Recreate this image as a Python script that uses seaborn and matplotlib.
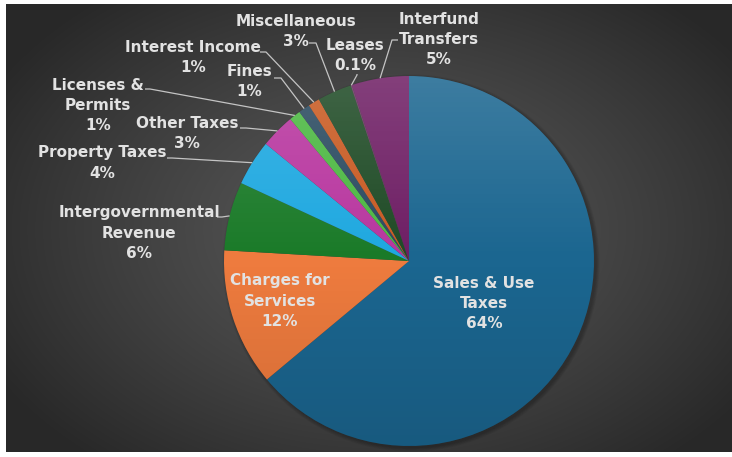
import numpy as np
import matplotlib
matplotlib.use("Agg")
import matplotlib.pyplot as plt
import seaborn as sns
from matplotlib.patches import Circle

# Revenue sources, in clockwise order from 12 o'clock
categories = [
    "Sales & Use\nTaxes", "Charges for\nServices", "Intergovernmental\nRevenue",
    "Property Taxes", "Other Taxes", "Licenses &\nPermits", "Fines",
    "Interest Income", "Miscellaneous", "Leases", "Interfund\nTransfers",
]
shares = [64, 12, 6, 4, 3, 1, 1, 1, 3, 0.1, 5]
colors = [
    "#1b6690", "#ee7b3e", "#1a7a28", "#1ea8e0", "#b8369f", "#4cb842",
    "#2a4a60", "#c85a22", "#1e4a25", "#6a3a60", "#6e1e64",
]

sns.set_theme(style="white")
plt.rcParams["font.family"] = ["DejaVu Sans"]

W, H = 732, 457
fig = plt.figure(figsize=(W / 100, H / 100), dpi=100, facecolor="white")
ax = fig.add_axes([0, 0, 1, 1])

# pixel-style coordinates: x to the right, y measured from the top
def P(x, y):
    return x, H - y

cx, cy = P(409, 261)
R = 185

# dark radial-gradient backdrop
gx = np.linspace(6, W, 400)
gy = np.linspace(4, 452, 260)
XX, YY = np.meshgrid(gx, gy)
rr = np.sqrt(((XX - 380) / 440) ** 2 + ((YY - 230) / 300) ** 2)
val = 0.35 - (0.35 - 0.16) * np.clip(rr, 0, 1) ** 1.2
bg = np.dstack([val, val, val])
ax.imshow(bg, extent=(6, W, H - 452, H - 4), origin="upper", zorder=0,
          interpolation="bilinear", aspect="auto")

# soft shadow under the pie, offset towards the lower right
for k in range(5):
    ax.add_patch(Circle((cx + 2, cy - 2), R + 3.5 - k * 0.8, color="black",
                        alpha=0.05, lw=0, zorder=1))

wedges, _ = ax.pie(shares, colors=colors, startangle=90, counterclock=False,
                   radius=R, center=(cx, cy),
                   wedgeprops=dict(linewidth=0, zorder=2))

# light-to-dark shading across the pie
shade = np.zeros((200, 2, 4))
t = np.linspace(0, 1, 200)[:, None]
top = np.clip(1 - 2 * t, 0, 1)
bot = np.clip(2 * t - 1, 0, 1)
shade[..., 0:3] = np.where(top > 0, 1.0, 0.0)[..., None]
shade[..., 3] = np.where(top > 0, 0.15 * top, 0.12 * bot)
im = ax.imshow(shade, extent=(cx - R, cx + R, cy - R, cy + R), origin="upper",
               zorder=3, aspect="auto", interpolation="bilinear")
im.set_clip_path(Circle((cx, cy), R, transform=ax.transData))

txt_color = "#e2e2e2"
line_color = "#c4c4c4"
fs = 11
step = 20  # line pitch in pixels

def edge_point(w):
    a = np.deg2rad((w.theta1 + w.theta2) / 2)
    return cx + R * np.cos(a), cy + R * np.sin(a)

def draw_label(i, centre):
    lines = f"{categories[i]}\n{shares[i]:g}%".split("\n")
    n = len(lines)
    for j, s in enumerate(lines):
        y = centre[1] + (j - (n - 1) / 2) * step
        ax.text(*P(centre[0], y), s, ha="center", va="center",
                color=txt_color, fontsize=fs, fontweight="bold", zorder=5)

# outside labels: block centre, leader start, elbow
outside = {
    2: ((139, 233), (217, 217), (222, 217)),
    3: ((102, 163), (167, 158), (172, 158)),
    4: ((187, 133), (240, 128), (246, 128)),
    5: ((98, 105), (145, 89), (150, 89)),
    6: ((249, 82), (274, 78), (281, 78)),
    7: ((193, 58), (260, 52), (266, 52)),
    8: ((296, 31), (309, 43), (316, 43)),
    9: ((355, 55), (357, 74), (357, 75)),
    10: ((439, 40), (398, 40), (392, 40)),
}
for i, (c, s, e) in outside.items():
    draw_label(i, c)
    ex, ey = edge_point(wedges[i])
    xs = [s[0], e[0], ex]
    ys = [H - s[1], H - e[1], ey]
    ax.plot(xs, ys, color=line_color, lw=0.9, zorder=4, solid_capstyle="butt")

# labels inside the two largest slices
for i, c in {0: (484, 303), 1: (280, 301)}.items():
    draw_label(i, c)

ax.set_xlim(0, W)
ax.set_ylim(0, H)
ax.set_aspect("auto")
ax.axis("off")
fig.savefig("out.png", dpi=100, facecolor="white")
